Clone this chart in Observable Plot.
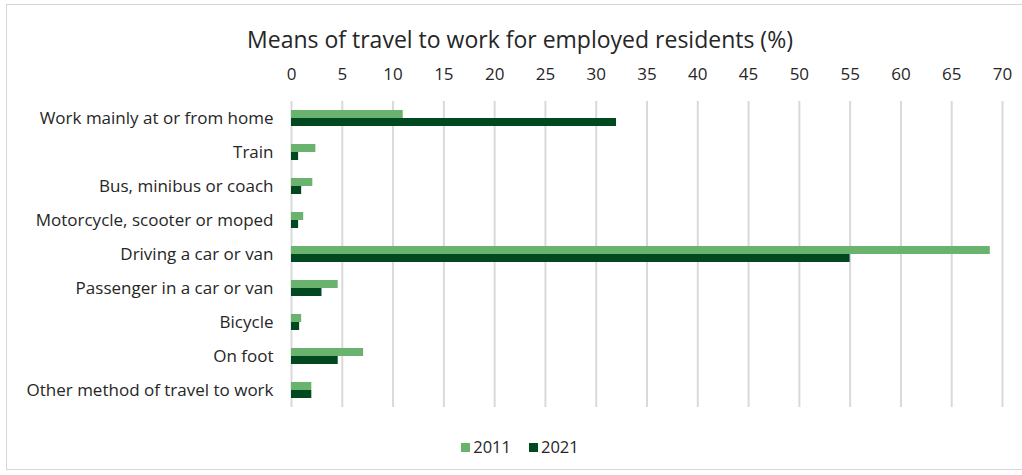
<!DOCTYPE html>
<html>
<head>
<meta charset="utf-8">
<script src="https://cdn.jsdelivr.net/npm/d3@7"></script>
<script src="https://cdn.jsdelivr.net/npm/@observablehq/plot@0.6"></script>
<style>
  html, body { margin: 0; padding: 0; background: #fff; overflow: hidden; }
  #page { position: relative; width: 1022px; height: 475px; font-family: "Open Sans", sans-serif; color: #262626; }
  #frame { position: absolute; left: 6px; top: 4px; width: 1040px; height: 466px; border: 1px solid #d6d6d6; box-sizing: border-box; }
  #title { position: absolute; left: 0; width: 1040px; top: 24px; text-align: center; font-size: 23px; line-height: 30px; }
  #chart { position: absolute; left: 0; top: 0; }
  #legend { position: absolute; left: 0; width: 1040px; top: 435px; text-align: center; font-size: 16.5px; line-height: 24px; }
  .sw { display: inline-block; width: 9px; height: 9px; margin-right: 3px; vertical-align: 1px; }
  .item { margin: 0 9px; }
</style>
</head>
<body>
<div id="page">
  <div id="frame"></div>
  <div id="chart"></div>
  <div id="title">Means of travel to work for employed residents (%)</div>
  <div id="legend"></div>
</div>
<script>
const categories = [
  "Work mainly at or from home",
  "Train",
  "Bus, minibus or coach",
  "Motorcycle, scooter or moped",
  "Driving a car or van",
  "Passenger in a car or van",
  "Bicycle",
  "On foot",
  "Other method of travel to work"
];
const years = ["2011", "2021"];
const values2011 = [11.0, 2.4, 2.1, 1.2, 68.8, 4.6, 1.0, 7.1, 2.0];
const values2021 = [32.0, 0.7, 1.0, 0.7, 55.0, 3.0, 0.8, 4.6, 2.0];
const xTicks = [0, 5, 10, 15, 20, 25, 30, 35, 40, 45, 50, 55, 60, 65, 70];
const colors = ["#69b36f", "#00481f"];

const rows = [];
categories.forEach((c, i) => {
  rows.push({category: c, year: years[0], value: values2011[i]});
  rows.push({category: c, year: years[1], value: values2021[i]});
});

const chart = Plot.plot({
  width: 1022,
  height: 420,
  marginTop: 101,
  marginBottom: 13,
  marginLeft: 291,
  marginRight: 20,
  style: {fontFamily: "Open Sans, sans-serif", fontSize: "17px", color: "#262626", background: "transparent"},
  x: {domain: [0, 70], axis: "top", ticks: xTicks, tickSize: 0, tickPadding: 22, label: null},
  y: {domain: years, axis: null, paddingInner: 0, paddingOuter: 0.89},
  fy: {domain: categories, axis: "left", label: null, tickSize: 0, tickPadding: 18, padding: 0},
  color: {domain: years, range: colors},
  facet: {data: rows, y: "category"},
  marks: [
    Plot.ruleX(xTicks, {stroke: "#d9d9d9", strokeWidth: 2}),
    Plot.barX(rows, {x: "value", y: "year", fill: "year"})
  ]
});
document.getElementById("chart").appendChild(chart);

const legend = document.getElementById("legend");
years.forEach((y, i) => {
  const s = document.createElement("span");
  s.className = "item";
  s.innerHTML = `<span class="sw" style="background:${colors[i]}"></span>${y}`;
  legend.appendChild(s);
});
</script>
</body>
</html>
